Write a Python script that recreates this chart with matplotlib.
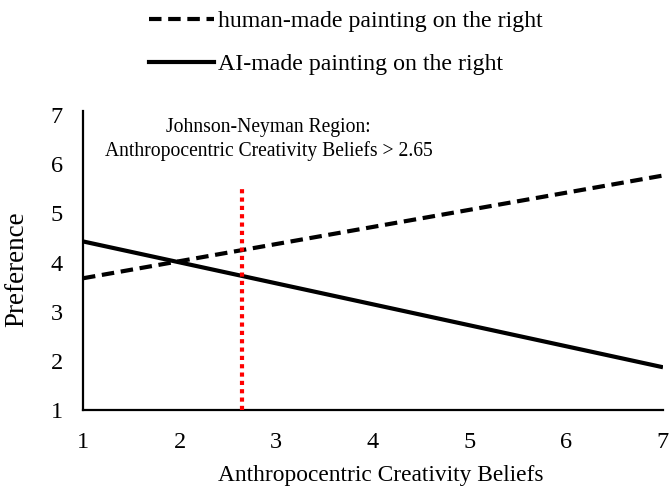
import matplotlib
matplotlib.use("Agg")
import matplotlib.pyplot as plt
from matplotlib.lines import Line2D

plt.rcParams['font.family'] = ['Liberation Serif', 'DejaVu Serif']

# Simple slopes at the ends of the moderator range
x_ends = [1, 7]
human_right = [3.68, 5.77]
ai_right = [4.43, 1.87]
jn_point = 2.65
jn_top = 5.5

x_ticks = [1, 2, 3, 4, 5, 6, 7]
y_ticks = [1, 2, 3, 4, 5, 6, 7]

DASH = (0, (3, 1.6))

fig = plt.figure(figsize=(6.69, 4.94), dpi=100)
ax = fig.add_axes([0.124, 0.17, 0.867, 0.605])

ax.plot(x_ends, human_right, color='black', lw=3.0, linestyle=DASH,
        solid_capstyle='butt', dash_capstyle='butt')
ax.plot(x_ends, ai_right, color='black', lw=3.0, solid_capstyle='butt')
ax.plot([jn_point, jn_point], [1, jn_top], color='#ff0000', lw=3.0,
        linestyle=(0, (1, 1)), dash_capstyle='butt', zorder=3)

ax.text(2.92, 6.5, 'Johnson-Neyman Region:\nAnthropocentric Creativity Beliefs > 2.65',
        ha='center', va='center', fontsize=14.1, linespacing=1.25)

ax.set_xlim(1, 7)
ax.set_ylim(1, 7.08)
ax.set_xticks(x_ticks)
ax.set_yticks(y_ticks)
ax.tick_params(length=0, labelsize=17.5)
ax.tick_params(axis='x', pad=16)
ax.tick_params(axis='y', pad=14.5)
for s in ['top', 'right']:
    ax.spines[s].set_visible(False)
for s in ['left', 'bottom']:
    ax.spines[s].set_linewidth(1.6)

ax.set_xlabel('Anthropocentric Creativity Beliefs', fontsize=16.8)
ax.set_ylabel('Preference', fontsize=19.5)
ax.xaxis.set_label_coords(0.513, -0.184)
ax.yaxis.set_label_coords(-0.093, 0.47)

handles = [
    Line2D([], [], color='black', lw=3.0, linestyle=DASH),
    Line2D([], [], color='black', lw=3.0),
]
labels = ['human-made painting on the right', 'AI-made painting on the right']
fig.legend(handles, labels, loc='upper left', bbox_to_anchor=(0.2015, 1.008),
           frameon=False, fontsize=17.2, handlelength=2.7, handletextpad=0.2,
           labelspacing=0.9, borderaxespad=0.2)

fig.savefig('out.png', dpi=100)
